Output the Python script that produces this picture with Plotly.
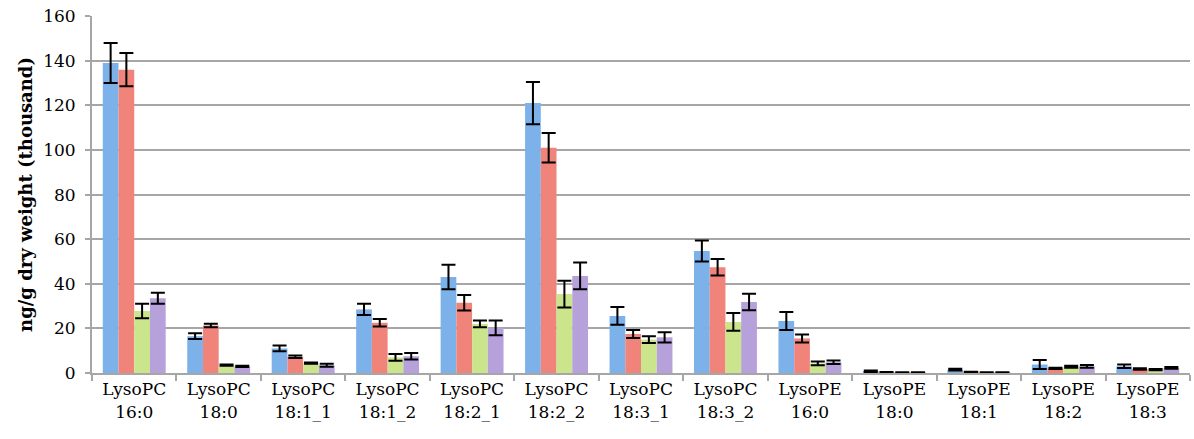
import plotly.graph_objects as go

categories = ["LysoPC<br>16:0", "LysoPC<br>18:0", "LysoPC<br>18:1_1", "LysoPC<br>18:1_2",
              "LysoPC<br>18:2_1", "LysoPC<br>18:2_2", "LysoPC<br>18:3_1", "LysoPC<br>18:3_2",
              "LysoPE<br>16:0", "LysoPE<br>18:0", "LysoPE<br>18:1", "LysoPE<br>18:2", "LysoPE<br>18:3"]

blue_vals = [139, 16.5, 11, 28.5, 43, 121, 25.6, 54.7, 23.3, 0.8, 1.5, 3.8, 3.0]
blue_err = [9, 1.3, 1.3, 2.5, 5.5, 9.5, 4, 4.7, 4, 0.3, 0.4, 2.0, 0.8]
red_vals = [136, 21.3, 7.3, 22.5, 31.5, 101, 17.5, 47.4, 15.5, 0.3, 0.5, 2.1, 1.8]
red_err = [7.5, 0.8, 0.6, 1.7, 3.5, 6.6, 1.8, 3.7, 1.8, 0.1, 0.1, 0.3, 0.3]
green_vals = [27.8, 3.5, 4.4, 7, 22, 35.4, 15, 22.9, 4.3, 0.2, 0.2, 2.8, 1.5]
green_err = [3.2, 0.3, 0.3, 1.5, 1.5, 6, 1.5, 4, 0.8, 0.1, 0.1, 0.5, 0.3]
purple_vals = [33.5, 3.0, 3.5, 7.5, 20.2, 43.5, 16, 31.8, 4.8, 0.2, 0.2, 3.0, 2.3]
purple_err = [2.5, 0.3, 0.7, 1.5, 3.3, 6, 2.3, 3.7, 0.8, 0.1, 0.1, 0.6, 0.4]

series = [
    ("Series 1", blue_vals, blue_err, "#7db1ea"),
    ("Series 2", red_vals, red_err, "#f0847b"),
    ("Series 3", green_vals, green_err, "#cbe58c"),
    ("Series 4", purple_vals, purple_err, "#b7a1db"),
]

fig = go.Figure()
for name, vals, errs, col in series:
    fig.add_trace(go.Bar(
        name=name, x=categories, y=vals,
        marker=dict(color=col, line=dict(width=0)),
        error_y=dict(type="data", array=errs, visible=True, color="black",
                     thickness=2, width=7),
    ))

font_family = "DejaVu Serif, Liberation Serif, serif"
fig.update_layout(
    width=1194, height=439,
    barmode="group", bargap=0.255, bargroupgap=0,
    showlegend=False,
    plot_bgcolor="white", paper_bgcolor="white",
    margin=dict(l=92, r=4, t=16, b=66),
    font=dict(family=font_family, size=17, color="black"),
)
fig.update_xaxes(
    automargin=False,
    showline=True, linecolor="#a6a6a6", linewidth=2,
    ticks="outside", tickson="boundaries", ticklen=6, tickcolor="#a6a6a6", tickwidth=2,
    tickfont=dict(size=17, family=font_family),
    showgrid=False,
)
fig.update_yaxes(
    automargin=False,
    range=[0, 160.05], tickvals=[0, 20, 40, 60, 80, 100, 120, 140, 160],
    showline=True, linecolor="#a6a6a6", linewidth=2,
    ticks="outside", ticklen=5, tickcolor="#a6a6a6", tickwidth=2,
    ticklabelstandoff=6, ticklabeloverflow="allow",
    showgrid=True, gridcolor="#a6a6a6", gridwidth=2,
    tickfont=dict(size=17, family=font_family),
    title=dict(text="<b>ng/g dry weight (thousand)</b>", font=dict(size=18, family=font_family), standoff=6),
    zeroline=False,
)

fig.write_html("out.html", config={"displayModeBar": False},
               post_script="document.body.style.margin='0px';document.body.style.overflow='hidden';")
